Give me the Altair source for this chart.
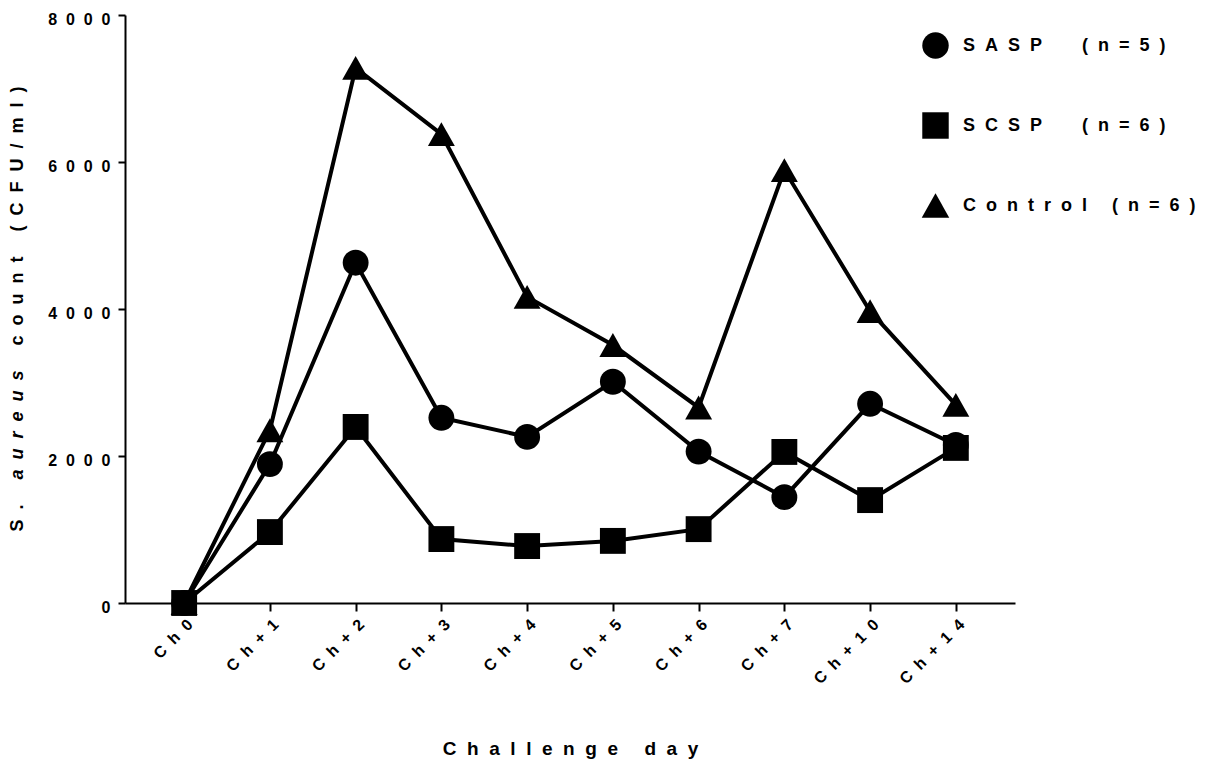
import altair as alt
import pandas as pd

# Challenge days and mean S. aureus counts (CFU/ml) per group
days = ["Ch0", "Ch+1", "Ch+2", "Ch+3", "Ch+4", "Ch+5", "Ch+6", "Ch+7", "Ch+10", "Ch+14"]
sasp = [0, 1890, 4630, 2520, 2260, 3010, 2060, 1440, 2710, 2150]
scsp = [0, 965, 2395, 870, 775, 845, 1005, 2055, 1400, 2110]
control = [0, 2350, 7280, 6380, 4165, 3510, 2660, 5890, 3970, 2695]

groups = ["SASP  (n=5)", "SCSP  (n=6)", "Control (n=6)"]
y_ticks = [0, 2000, 4000, 6000, 8000]

FONT = "Liberation Sans"
NB = "\u00a0"
SEP = NB * 2  # wide letter tracking used throughout


def spaced(s, sep=SEP):
    return sep.join(NB if c == " " else c for c in s)


# long table; SASP first, squares last so they sit on top
rows = []
for name, vals in [(groups[0], sasp), (groups[2], control), (groups[1], scsp)]:
    for d, v in zip(days, vals):
        rows.append({"day": d, "count": v, "group": name})
df = pd.DataFrame(rows)

W, H = 890, 588
tri = "M0,-0.92L1.04,0.92L-1.04,0.92Z"
track_expr = f"join(split(datum.label, ''), '{SEP}')"

x_enc = alt.X(
    "day:N",
    sort=days,
    scale=alt.Scale(type="point", padding=0.69),
    axis=alt.Axis(
        title=spaced("Challenge day"),
        titleFont=FONT, titleFontSize=19, titleFontWeight="bold", titleColor="black",
        titleY=145, titleBaseline="middle",
        labelAngle=-45, labelFont=FONT, labelFontSize=16, labelFontWeight="bold",
        labelColor="black", labelPadding=5, labelExpr=track_expr,
        domainColor="black", domainWidth=2, tickColor="black", tickWidth=2, tickSize=8,
        grid=False,
    ),
)
y_enc = alt.Y(
    "count:Q",
    scale=alt.Scale(domain=[0, 8000], nice=False),
    axis=alt.Axis(
        title=None, values=y_ticks, format="d",
        labelFont=FONT, labelFontSize=16, labelFontWeight="bold", labelColor="black",
        labelPadding=8, labelOffset=4, labelExpr=track_expr,
        domainColor="black", domainWidth=2, tickColor="black", tickWidth=2, tickSize=7,
        grid=False,
    ),
)

base = alt.Chart(df)

lines = base.mark_line(color="black", strokeWidth=4).encode(
    x=x_enc, y=y_enc, detail="group:N"
)

points = base.mark_point(
    filled=True, color="black", opacity=1, strokeWidth=0, size=670
).encode(
    x=x_enc,
    y=y_enc,
    shape=alt.Shape(
        "group:N",
        scale=alt.Scale(domain=groups, range=["circle", "square", tri]),
        legend=alt.Legend(
            title=None, orient="none", legendX=797, legendY=17,
            symbolSize=700, symbolFillColor="black", symbolStrokeColor="black",
            symbolStrokeWidth=0, symbolOpacity=1,
            labelFont=FONT, labelFontSize=18, labelFontWeight="bold", labelColor="black",
            labelOffset=14, labelLimit=500, rowPadding=53, padding=0,
            labelExpr=track_expr,
        ),
    ),
)

# y-axis title with the species name in italics, laid out as three rotated runs
ADV = {
    "S": .667, ".": .278, " ": .278, NB: .278, "a": .556, "u": .611,
    "r": .389, "e": .556, "s": .556, "c": .556, "o": .611, "n": .611, "t": .333,
    "(": .333, "C": .722, "F": .611, "U": .722, "/": .278, "m": .889, "l": .278,
    ")": .333,
}
TFS = 18


def run_width(s):
    return sum(ADV.get(c, .556) for c in s) * TFS


runs = [("S.", "normal"), ("aureus", "italic"), ("count (CFU/ml)", "normal")]
gap = run_width(SEP + NB + SEP)
texts = [spaced(t) for t, _ in runs]
total = sum(run_width(t) for t in texts) + gap * (len(texts) - 1)
pos = H / 2 + total / 2
title_layers = []
for (t, style), st in zip(runs, texts):
    title_layers.append(
        alt.Chart(pd.DataFrame({"t": [st]}))
        .mark_text(
            angle=270, align="left", baseline="alphabetic", font=FONT,
            fontSize=TFS, fontWeight="bold", fontStyle=style, color="black",
        )
        .encode(x=alt.value(-102), y=alt.value(pos), text="t:N")
    )
    pos -= run_width(st) + gap

chart = (
    alt.layer(lines, points, *title_layers)
    .properties(
        width=W, height=H,
        background="white",
        autosize=alt.AutoSizeParams(type="none"),
        padding={"left": 125, "top": 15, "right": 199, "bottom": 163},
    )
    .configure_view(stroke="transparent", strokeWidth=0)
)

chart.save("out.html", embed_options={"renderer": "svg", "actions": False})
